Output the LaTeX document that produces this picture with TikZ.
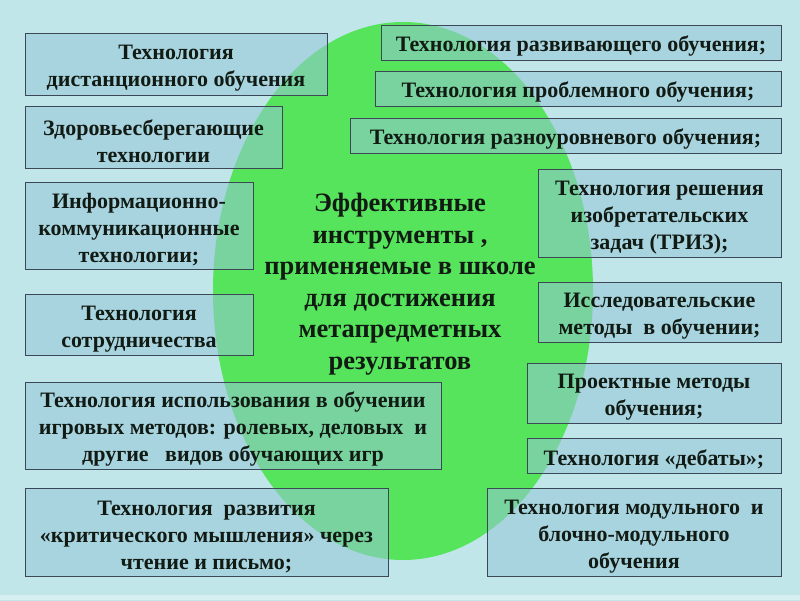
\documentclass[tikz,border=0pt]{standalone}
\usepackage{fontspec}
\setmainfont{Liberation Serif}
\definecolor{bgcyan}{RGB}{192,230,234}
\definecolor{bglav}{RGB}{170,168,226}
\definecolor{bgedge}{RGB}{214,240,242}
\definecolor{ovgreen}{RGB}{86,228,92}
\definecolor{boxfill}{RGB}{148,198,214}
\definecolor{boxline}{RGB}{60,72,88}
\definecolor{txt}{RGB}{18,26,20}
\newcommand{\fstr}{\rule{0pt}{23.5pt}}
\tikzset{
  box/.style={draw=boxline, line width=1pt, fill=boxfill, fill opacity=0.55, text opacity=1,
    align=center, inner sep=0pt, text=txt, font=\bfseries\fontsize{22}{27}\selectfont},
  centre/.style={align=center, text=txt, font=\bfseries\fontsize{26.5}{31.5}\selectfont}
}
\begin{document}
\begin{tikzpicture}[x=1pt,y=-1pt]
\useasboundingbox (0,0) rectangle (800,600);
\shade[top color=bgcyan, middle color=bglav, bottom color=bgcyan] (0,0) rectangle (800,600);
\fill[bgedge] (0,595) rectangle (800,600);
\fill[ovgreen] (403,291) ellipse [x radius=190, y radius=269];
\node[centre] (c) at (400,284) {Эффективные\\инструменты ,\\применяемые в школе\\для достижения\\метапредметных\\результатов};
% left column
\node[box, minimum width=302pt, minimum height=62pt] (b1) at (176,64) {\fstr Технология\\дистанционного обучения};
\node[box, minimum width=257pt, minimum height=62pt] (b2) at (153.5,137) {\fstr Здоровьесберегающие\\технологии};
\node[box, minimum width=228pt, minimum height=87pt] (b3) at (139,225.5) {\fstr Информационно-\\коммуникационные\\технологии;};
\node[box, minimum width=228pt, minimum height=61pt] (b4) at (139,324.5) {\fstr Технология\\сотрудничества};
\node[box, minimum width=416pt, minimum height=87pt] (b5) at (233,425.5) {\fstr Технология использования в обучении\\игровых методов: ролевых, деловых\ \ и\\другие\ \ \ видов обучающих игр};
\node[box, minimum width=363pt, minimum height=88pt] (b6) at (206.5,532) {\fstr Технология\ \ развития\\«критического мышления» через\\чтение и письмо;};
% right column
\node[box, minimum width=400pt, minimum height=35pt] (b7) at (581,42.5) {\fstr Технология развивающего обучения;};
\node[box, minimum width=406pt, minimum height=35pt] (b8) at (578,88.5) {\fstr Технология проблемного обучения;};
\node[box, minimum width=431pt, minimum height=35pt] (b9) at (565.5,135.5) {\fstr Технология разноуровневого обучения;};
\node[box, minimum width=243pt, minimum height=88pt] (b10) at (659.5,213) {\fstr Технология решения\\изобретательских\\задач (ТРИЗ);};
\node[box, minimum width=243pt, minimum height=60pt] (b11) at (659.5,312) {\fstr Исследовательские\\методы\ \ в обучении;};
\node[box, minimum width=254pt, minimum height=60pt] (b12) at (654,393) {\fstr Проектные методы\\обучения;};
\node[box, minimum width=254pt, minimum height=35pt] (b13) at (654,455.5) {\fstr Технология «дебаты»;};
\node[box, minimum width=294pt, minimum height=88pt] (b14) at (634,532) {\fstr Технология модульного\ \ и\\блочно-модульного\\обучения};
\end{tikzpicture}
\end{document}
